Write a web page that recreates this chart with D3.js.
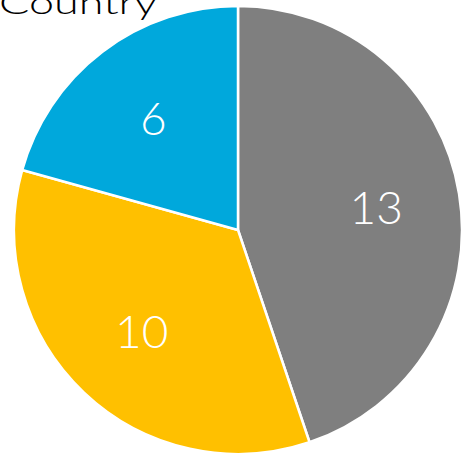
<!DOCTYPE html>
<html>
<head>
<meta charset="utf-8">
<script src="https://cdn.jsdelivr.net/npm/d3@7"></script>
<style>
  html, body { margin: 0; padding: 0; background: #fff; overflow: hidden; }
</style>
</head>
<body>
<div id="chart"></div>
<script>
// slice data, clockwise from 12 o'clock
var categories = ["A", "B", "C"];
var values = [13, 10, 6];
var colors = ["#7f7f7f", "#ffc000", "#00a8dc"];
var title = "Country";

var width = 461, height = 458;
var cx = 238, cy = 230, radius = 224;

var svg = d3.select("#chart")
    .append("svg")
    .attr("width", width)
    .attr("height", height);

var g = svg.append("g")
    .attr("transform", "translate(" + cx + "," + cy + ")");

var pie = d3.pie().sort(null).value(function (d) { return d; });
var arcs = pie(values);

var arc = d3.arc().innerRadius(0).outerRadius(radius);
var labelArc = d3.arc().innerRadius(140).outerRadius(140);

g.selectAll("path")
    .data(arcs)
    .enter().append("path")
    .attr("d", arc)
    .attr("fill", function (d, i) { return colors[i]; })
    .attr("stroke", "#fff")
    .attr("stroke-width", 2.5)
    .attr("stroke-linejoin", "round");

g.selectAll(".lbl")
    .data(arcs)
    .enter().append("text")
    .attr("class", "lbl")
    .attr("transform", function (d) { return "translate(" + labelArc.centroid(d) + ")"; })
    .attr("text-anchor", "middle")
    .attr("dy", "0.36em")
    .style("font-family", "Lato, 'DejaVu Sans', sans-serif")
    .style("font-weight", 300)
    .style("font-size", "46px")
    .style("fill", "#fff")
    .text(function (d) { return d.data; });

svg.append("text")
    .attr("x", -1)
    .attr("y", 14)
    .attr("textLength", 158)
    .attr("lengthAdjust", "spacingAndGlyphs")
    .style("font-family", "Lato, 'DejaVu Sans', sans-serif")
    .style("font-weight", 300)
    .style("font-size", "31px")
    .style("fill", "#000")
    .text(title);
</script>
</body>
</html>
